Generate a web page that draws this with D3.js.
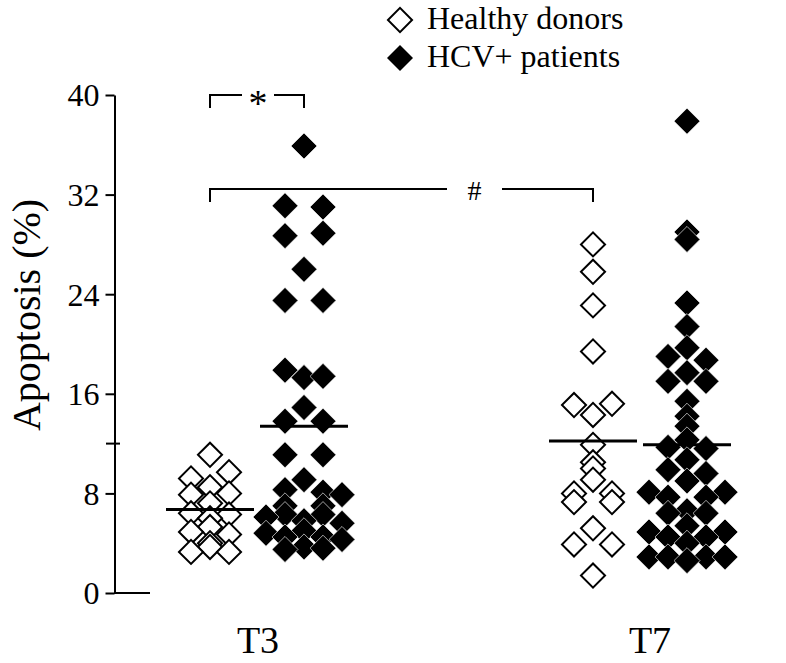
<!DOCTYPE html>
<html>
<head>
<meta charset="utf-8">
<script src="https://cdn.jsdelivr.net/npm/d3@7"></script>
<style>
  body { margin: 0; background: #fff; }
</style>
</head>
<body>
<svg id="chart" width="786" height="663"></svg>
<script>
// timepoints and groups
const timepoints = ["T3", "T7"];
const groups = ["healthy", "hcv"];
const yTicks = [0, 8, 16, 24, 32, 40];
const legendLabels = ["Healthy donors", "HCV+ patients"];

// apoptosis values (%) and the column each diamond sits in
const healthyT3Values = [11.1, 9.7, 9.2, 8.5, 8.0, 7.9, 7.2, 6.4, 6.3, 6.0, 5.3, 4.9, 4.7, 4.0, 3.7, 3.3, 3.3];
const healthyT3Cols   = [0, 1, -1, 0, 1, -1, 0, -1, 1, 0, 0, -1, 1, 0, 0, -1, 1];

const hcvT3Values = [35.9, 31.1, 31.0, 28.7, 28.9, 26.0, 23.5, 23.5, 17.9, 17.3, 17.4, 14.9, 13.8, 13.8, 11.1, 11.1,
  9.1, 8.3, 8.1, 7.9, 7.0, 7.0, 6.3, 6.3, 6.1, 5.8, 5.6, 5.0, 4.8, 4.5, 4.5, 4.3, 3.7, 3.5, 3.6];
const hcvT3Cols   = [0, -1, 1, -1, 1, 0, -1, 1, -1, 0, 1, 0, -1, 1, -1, 1,
  0, -1, 1, 2, -1, 1, -1, 1, -2, 0, 2, 0, -2, -1, 1, 2, 0, -1, 1];

const healthyT7Values = [28.0, 25.8, 23.1, 19.4, 15.2, 15.1, 14.3, 11.9, 10.5, 10.0, 9.1, 8.0, 8.0, 7.3, 7.3, 5.2, 3.9, 3.9, 1.4];
const healthyT7Cols   = [0, 0, 0, 0, 1, -1, 0, 0, 0, 0, 0, -1, 1, -1, 1, 0, -1, 1, 0];

const hcvT7Values = [37.9, 29.0, 28.4, 23.3, 21.4, 19.7, 19.0, 18.7, 17.7, 17.0, 17.0, 15.4, 14.2, 13.4, 12.3,
  11.7, 11.6, 10.7, 9.9, 9.6, 9.0, 8.1, 8.1, 7.7, 7.7, 6.6, 6.4, 6.4, 5.4, 4.9, 4.9, 4.5, 4.5, 4.0,
  2.9, 2.9, 2.9, 2.9, 2.6];
const hcvT7Cols   = [0, 0, 0, 0, 0, 0, -1, 1, 0, -1, 1, 0, 0, 0, 0,
  -1, 1, 0, -1, 1, 0, -2, 2, -1, 1, 0, -1, 1, 0, -2, 2, -1, 1, 0,
  -2, -1, 1, 2, 0];

// medians: healthy T3, hcv T3, healthy T7, hcv T7
const medians = [6.7, 13.4, 12.2, 11.9];

const series = [
  { time: "T3", group: "healthy", values: healthyT3Values, cols: healthyT3Cols },
  { time: "T3", group: "hcv", values: hcvT3Values, cols: hcvT3Cols },
  { time: "T7", group: "healthy", values: healthyT7Values, cols: healthyT7Cols },
  { time: "T7", group: "hcv", values: hcvT7Values, cols: hcvT7Cols }
];

const serif = "'Liberation Serif', 'Times New Roman', Times, serif";
const svg = d3.select("#chart");

const y = d3.scaleLinear().domain([0, 40]).range([593, 95]);
const x = d3.scalePoint().domain(timepoints).range([257, 640]);
const xGroup = d3.scalePoint().domain(groups).range([-47, 47]);
const xCol = d3.scaleLinear().domain([-2, 2]).range([-38, 38]);

const diamondFilled = d3.symbol().type(d3.symbolSquare).size(338);
const diamondOpen = d3.symbol().type(d3.symbolSquare).size(290);

// y axis
const yAxis = svg.append("g")
  .attr("transform", "translate(114.5,0)")
  .call(d3.axisLeft(y).tickValues(yTicks).tickSize(9).tickSizeOuter(0).tickPadding(6));
yAxis.attr("font-family", null).attr("font-size", null);
yAxis.select(".domain").attr("stroke", "#000").attr("stroke-width", 2);
yAxis.selectAll(".tick line").attr("stroke", "#000").attr("stroke-width", 2);
yAxis.selectAll(".tick text")
  .style("font-family", serif)
  .style("font-size", "32px")
  .attr("fill", "#000")
  .attr("dy", "0.34em");

// minor tick at 12 and short bottom stub
svg.append("line")
  .attr("x1", 106).attr("x2", 120)
  .attr("y1", y(12)).attr("y2", y(12))
  .attr("stroke", "#000").attr("stroke-width", 2);
svg.append("line")
  .attr("x1", 114).attr("x2", 150)
  .attr("y1", y(0)).attr("y2", y(0))
  .attr("stroke", "#000").attr("stroke-width", 2);

svg.append("text")
  .attr("transform", "translate(40," + 315 + ") rotate(-90)")
  .attr("text-anchor", "middle")
  .style("font-family", serif)
  .style("font-size", "40px")
  .text("Apoptosis (%)");

// x labels
const labelNudge = { T3: 1, T7: 10 };
svg.selectAll(".xlabel")
  .data(timepoints)
  .enter()
  .append("text")
  .attr("class", "xlabel")
  .attr("x", d => x(d) + labelNudge[d])
  .attr("y", 653)
  .attr("text-anchor", "middle")
  .style("font-family", serif)
  .style("font-size", "38px")
  .text(d => d);

// diamonds
series.forEach(s => {
  const cx = x(s.time) + xGroup(s.group);
  const pts = s.values.map((v, i) => ({ v: v, c: s.cols[i] }));
  svg.append("g")
    .selectAll("path")
    .data(pts)
    .enter()
    .append("path")
    .attr("d", s.group === "hcv" ? diamondFilled() : diamondOpen())
    .attr("transform", d => "translate(" + (cx + xCol(d.c)) + "," + y(d.v) + ") rotate(45)")
    .attr("fill", s.group === "hcv" ? "#000" : "#fff")
    .attr("stroke", s.group === "hcv" ? "#fff" : "#000")
    .attr("stroke-width", s.group === "hcv" ? 0.6 : 2);
});

// median lines
svg.selectAll(".median")
  .data(series)
  .enter()
  .append("line")
  .attr("class", "median")
  .attr("x1", d => x(d.time) + xGroup(d.group) - 44)
  .attr("x2", d => x(d.time) + xGroup(d.group) + 44)
  .attr("y1", (d, i) => y(medians[i]))
  .attr("y2", (d, i) => y(medians[i]))
  .attr("stroke", "#000")
  .attr("stroke-width", 3);

// significance brackets
const bracket = (x1, x2, yy, gapL, gapR, mark, size, base) => {
  const p = d3.path();
  p.moveTo(x1, yy + 13); p.lineTo(x1, yy); p.lineTo(gapL, yy);
  p.moveTo(gapR, yy); p.lineTo(x2, yy); p.lineTo(x2, yy + 13);
  svg.append("path").attr("d", p.toString())
    .attr("fill", "none").attr("stroke", "#000").attr("stroke-width", 2);
  svg.append("text")
    .attr("x", (gapL + gapR) / 2)
    .attr("y", yy + base)
    .attr("text-anchor", "middle")
    .style("font-family", serif)
    .style("font-size", size + "px")
    .text(mark);
};
const hT3 = x("T3") + xGroup("healthy");
const pT3 = x("T3") + xGroup("hcv");
const hT7 = x("T7") + xGroup("healthy");
bracket(hT3, pT3, 95, 242, 274, "*", 38, 21);
bracket(hT3, hT7, 189, 447, 502, "#", 28, 11);

// legend
const legend = svg.append("g");
legendLabels.forEach((lab, i) => {
  const ly = 20 + i * 38;
  legend.append("path")
    .attr("d", i === 0 ? diamondOpen() : diamondFilled())
    .attr("transform", "translate(400," + ly + ") rotate(45)")
    .attr("fill", i === 0 ? "#fff" : "#000")
    .attr("stroke", "#000")
    .attr("stroke-width", i === 0 ? 2 : 0);
  legend.append("text")
    .attr("x", 427)
    .attr("y", ly + 9)
    .style("font-family", serif)
    .style("font-size", "32px")
    .text(lab);
});
</script>
</body>
</html>
